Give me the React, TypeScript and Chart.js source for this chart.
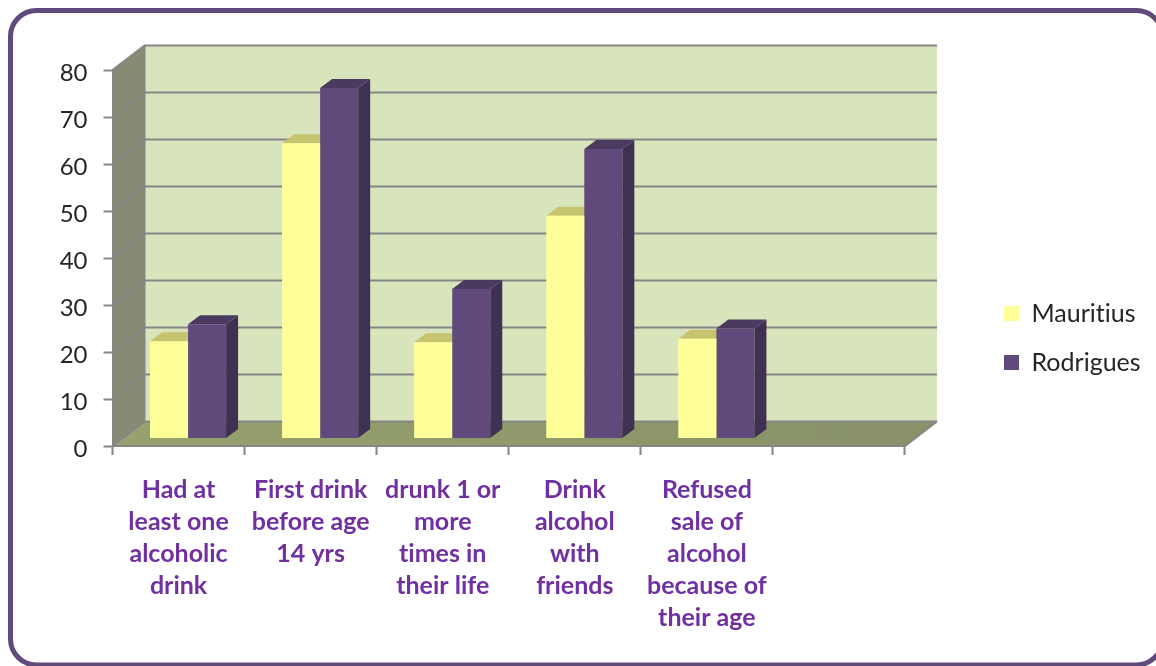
import React, { useEffect, useRef } from "react";
import { Chart, registerables } from "chart.js";

Chart.register(...registerables);

const categories: (string | string[])[] = [
  ["Had at", "least one", "alcoholic", "drink"],
  ["First drink", "before age", "14 yrs"],
  ["drunk 1 or", "more", "times in", "their life"],
  ["Drink", "alcohol", "with", "friends"],
  ["Refused", "sale of", "alcohol", "because of", "their age"],
  "",
];
const mauritius = [20.7, 62.8, 20.5, 47.4, 21.2, null];
const rodrigues = [24.3, 74.6, 31.8, 61.6, 23.4, null];
const yTicks = [0, 10, 20, 30, 40, 50, 60, 70, 80];

const FONT = "Lato, 'Open Sans', sans-serif";
const WALL = { dx: 32, dy: -24.5 };
const BAR = { dx: 9.5, dy: -7.5, sx: 12, sy: -9 };
const GRID = "#868686";

const poly = (ctx: CanvasRenderingContext2D, pts: number[][], fill: any) => {
  ctx.beginPath();
  pts.forEach(([x, y], i) => (i ? ctx.lineTo(x, y) : ctx.moveTo(x, y)));
  ctx.closePath();
  ctx.fillStyle = fill;
  ctx.fill();
};

const frame3d = {
  id: "frame3d",
  afterLayout(chart: any) {
    const l = chart.legend;
    if (!l) return;
    const w = l.right - l.left;
    l.left = 1004 - l.options.labels.padding;
    l.right = l.left + w;
    const h = l.bottom - l.top;
    l.top = 301 - l.options.labels.padding;
    l.bottom = l.top + h;
  },
  beforeDraw(chart: any) {
    const { ctx, chartArea: a, scales } = chart;
    const y = scales.y;
    (ctx as any).textRendering = "optimizeSpeed";
    ctx.save();
    ctx.fillStyle = "#ffffff";
    ctx.fillRect(0, 0, chart.width, chart.height);
    ctx.beginPath();
    ctx.roundRect(10.5, 10.5, 1152, 654.5, 26);
    ctx.lineWidth = 5;
    ctx.strokeStyle = "#604A7B";
    ctx.stroke();

    const top = y.getPixelForValue(80);
    const bot = y.getPixelForValue(0);
    const bl = a.left + WALL.dx;
    const br = a.right + WALL.dx;
    poly(ctx, [[bl, top + WALL.dy], [br, top + WALL.dy], [br, bot + WALL.dy], [bl, bot + WALL.dy]], "#D8E4BC");
    poly(ctx, [[a.left, top], [bl, top + WALL.dy], [bl, bot + WALL.dy], [a.left, bot]], "#868C73");
    const g = ctx.createLinearGradient(a.left, 0, a.right, 0);
    g.addColorStop(0, "#97A26E");
    g.addColorStop(1, "#889168");
    poly(ctx, [[a.left, bot], [bl, bot + WALL.dy], [br, bot + WALL.dy], [a.right, bot]], g);
    ctx.strokeStyle = GRID;
    ctx.lineWidth = 2;
    yTicks.forEach((v) => {
      const p = y.getPixelForValue(v);
      ctx.beginPath();
      ctx.moveTo(a.left, p);
      ctx.lineTo(bl, p + WALL.dy);
      ctx.lineTo(br, p + WALL.dy);
      ctx.stroke();
    });
    ctx.beginPath();
    ctx.moveTo(bl, top + WALL.dy);
    ctx.lineTo(bl, bot + WALL.dy);
    ctx.moveTo(br, bot + WALL.dy);
    ctx.lineTo(a.right, bot);
    ctx.stroke();
    ctx.restore();
  },
  beforeDatasetsDraw(chart: any) {
    const { ctx } = chart;
    const faces = [
      { top: "#C6C46F", side: "#B3B165" },
      { top: "#4A3A60", side: "#3F3151" },
    ];
    ctx.save();
    [0, 1].forEach((i) => {
      chart.getDatasetMeta(i).data.forEach((el: any, idx: number) => {
        if (chart.data.datasets[i].data[idx] == null) return;
        const l = el.x - el.width / 2 + BAR.dx;
        const r = el.x + el.width / 2 + BAR.dx;
        const t = el.y + BAR.dy;
        const b = el.base + BAR.dy;
        poly(ctx, [[r, t], [r + BAR.sx, t + BAR.sy], [r + BAR.sx, b + BAR.sy], [r, b]], faces[i].side);
        poly(ctx, [[l, t], [l + BAR.sx, t + BAR.sy], [r + BAR.sx, t + BAR.sy], [r, t]], faces[i].top);
      });
    });
    ctx.restore();
  },
  beforeDatasetDraw(chart: any) {
    chart.ctx.save();
    chart.ctx.translate(BAR.dx, BAR.dy);
  },
  afterDatasetDraw(chart: any) {
    chart.ctx.restore();
  },
};

export default function App() {
  const ref = useRef<HTMLCanvasElement>(null);
  useEffect(() => {
    const chart = new Chart(ref.current as HTMLCanvasElement, {
      type: "bar",
      data: {
        labels: categories as any,
        datasets: [
          { label: "Mauritius", data: mauritius, backgroundColor: "#FFFF99", categoryPercentage: 0.576, barPercentage: 1, clip: false as any },
          { label: "Rodrigues", data: rodrigues, backgroundColor: "#604A7B", categoryPercentage: 0.576, barPercentage: 1, clip: false as any },
        ],
      },
      options: {
        animation: false,
        responsive: false,
        layout: { padding: { top: 70, left: 0, right: 0, bottom: 0 } },
        plugins: {
          title: { display: false },
          tooltip: { enabled: false },
          legend: {
            display: true,
            position: "right",
            align: "start",
            labels: {
              boxWidth: 15,
              boxHeight: 15,
              padding: 24,
              color: "#262626",
              font: { family: FONT, size: 25 },
            },
          },
        },
        scales: {
          x: {
            offset: true,
            afterFit: (s: any) => { s.height = 220; },
            grid: { offset: true, drawOnChartArea: false, drawTicks: true, tickLength: 9, tickWidth: 2, tickColor: GRID },
            border: { color: GRID, width: 2 },
            ticks: {
              autoSkip: false,
              maxRotation: 0,
              padding: 19,
              color: "#7030A0",
              font: { family: FONT, size: 25, weight: "bold", lineHeight: 32 / 25 },
            },
          },
          y: {
            min: 0,
            max: 80,
            afterFit: (s: any) => { s.width = 112.5; },
            grid: { drawOnChartArea: false, drawTicks: true, tickLength: 9, tickWidth: 2, tickColor: GRID },
            border: { color: GRID, width: 2 },
            ticks: {
              stepSize: 10,
              padding: 16,
              labelOffset: 3,
              color: "#262626",
              font: { family: FONT, size: 24 },
            },
          },
        },
      },
      plugins: [
        frame3d,
        {
          id: "rightGap",
          beforeLayout(chart: any) {
            const m = document.createElement("canvas").getContext("2d") as CanvasRenderingContext2D;
            m.font = `25px ${FONT}`;
            const legendW = 15 + 12.5 + m.measureText("Rodrigues").width + 48;
            chart.options.layout.padding.right = 265 - legendW;
          },
        },
      ],
    } as any);
    return () => chart.destroy();
  }, []);
  return (
    <div style={{ position: "fixed", left: 0, top: 0, width: 1156, height: 666, background: "#fff" }}>
      <canvas ref={ref} width={1156} height={666} style={{ display: "block" }} />
    </div>
  );
}
